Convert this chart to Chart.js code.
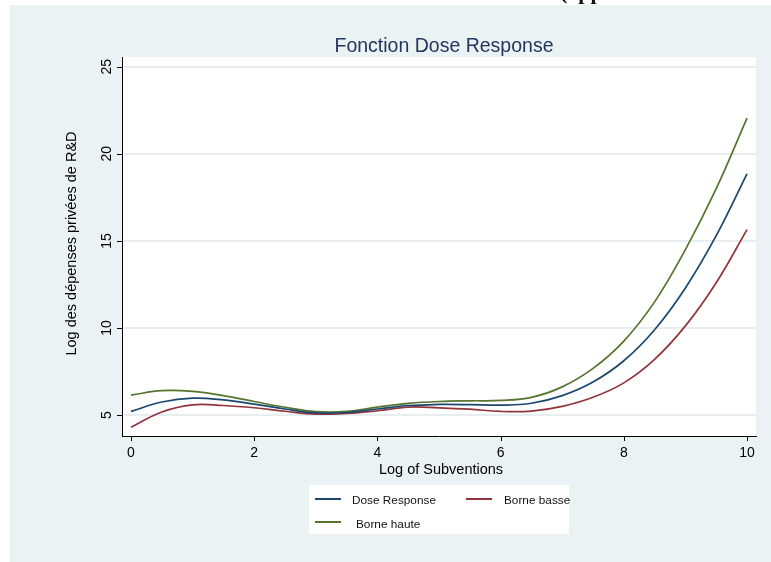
<!DOCTYPE html>
<html><head><meta charset="utf-8">
<script src="https://cdn.jsdelivr.net/npm/chart.js@4.4.0/dist/chart.umd.min.js"></script>
<style>html,body{margin:0;padding:0;background:#fff;overflow:hidden;}#wrap{width:771px;height:562px;position:relative;}</style>
</head><body><div id="wrap"><canvas id="c" width="771" height="562" style="width:771px;height:562px"></canvas></div>
<script>
// ---- data ----
const xValues      = [0, 0.5, 1, 1.5, 2, 2.5, 3, 3.5, 4, 4.5, 5, 5.5, 6, 6.5, 7, 7.5, 8, 8.5, 9, 9.5, 10];
const doseResponse = [5.21, 5.75, 5.97, 5.87, 5.63, 5.35, 5.13, 5.15, 5.35, 5.55, 5.61, 5.60, 5.57, 5.68, 6.12, 6.90, 8.12, 9.90, 12.30, 15.30, 18.85];
const borneBasse   = [4.30, 5.18, 5.59, 5.55, 5.42, 5.22, 5.06, 5.10, 5.25, 5.46, 5.42, 5.34, 5.21, 5.23, 5.50, 6.02, 6.85, 8.20, 10.12, 12.60, 15.65];
const borneHaute   = [6.15, 6.40, 6.36, 6.12, 5.78, 5.45, 5.20, 5.21, 5.46, 5.67, 5.78, 5.82, 5.84, 6.02, 6.62, 7.68, 9.25, 11.50, 14.50, 18.00, 22.05];
const xTickValues  = [0, 2, 4, 6, 8, 10];
const yTickValues  = [5, 10, 15, 20, 25];
const seriesNames  = ['Dose Response', 'Borne basse', 'Borne haute'];
const chartTitle   = 'Fonction Dose Response';
const xAxisTitle   = 'Log of Subventions';
const yAxisTitle   = 'Log des dépenses privées de R&D';

const COLORS = { blue: '#1a476f', red: '#90353b', green: '#55752f' };
const FONT = '"Liberation Sans", Arial, Helvetica, sans-serif';

function pts(ys) { return xValues.map((x, i) => ({ x: x, y: ys[i] })); }

const decor = {
  id: 'decor',
  beforeDraw(chart) {
    const ctx = chart.ctx, a = chart.chartArea;
    ctx.save();
    ctx.fillStyle = '#ffffff';
    ctx.fillRect(0, 0, chart.width, chart.height);
    ctx.fillStyle = '#111';
    ctx.font = 'bold 22px "Liberation Serif", serif';
    ctx.textBaseline = 'alphabetic';
    ctx.textAlign = 'left';
    ctx.fillText('(app', 560, -1);
    ctx.fillStyle = '#eaf2f3';
    ctx.fillRect(10, 5, chart.width - 10, chart.height - 5);
    ctx.fillStyle = '#ffffff';
    ctx.fillRect(a.left, a.top, a.right - a.left, a.bottom - a.top);
    ctx.restore();
  },
  afterDraw(chart) {
    const ctx = chart.ctx, a = chart.chartArea;
    const xs = chart.scales.x, ys = chart.scales.y;
    ctx.save();
    ctx.strokeStyle = '#000';
    ctx.lineWidth = 1;
    ctx.beginPath();
    xTickValues.forEach(v => {
      const px = Math.round(xs.getPixelForValue(v)) + 0.5;
      ctx.moveTo(px, a.bottom); ctx.lineTo(px, a.bottom + 5);
    });
    yTickValues.forEach(v => {
      const py = Math.round(ys.getPixelForValue(v)) + 0.5;
      ctx.moveTo(a.left - 5, py); ctx.lineTo(a.left, py);
    });
    ctx.stroke();
    ctx.fillStyle = '#000';
    ctx.font = '14px ' + FONT;
    ctx.textAlign = 'center';
    ctx.textBaseline = 'alphabetic';
    xTickValues.forEach(v => {
      ctx.fillText(String(v), xs.getPixelForValue(v), a.bottom + 21);
    });
    yTickValues.forEach(v => {
      ctx.save();
      ctx.translate(a.left - 11, ys.getPixelForValue(v));
      ctx.rotate(-Math.PI / 2);
      ctx.fillText(String(v), 0, 0);
      ctx.restore();
    });
    ctx.font = '14.5px ' + FONT;
    ctx.fillText(xAxisTitle, (a.left + a.right) / 2 + 2, a.bottom + 38);
    ctx.save();
    ctx.translate(76, (a.top + a.bottom) / 2 - 3);
    ctx.rotate(-Math.PI / 2);
    ctx.fillText(yAxisTitle, 0, 0);
    ctx.restore();
    ctx.fillStyle = '#23365e';
    ctx.font = '19.5px ' + FONT;
    ctx.fillText(chartTitle, (a.left + a.right) / 2 + 5, 52);
    ctx.fillStyle = '#ffffff';
    ctx.fillRect(309, 485, 260, 49);
    const items = [
      { name: seriesNames[0], color: COLORS.blue, x: 315, y: 499, tx: 352 },
      { name: seriesNames[1], color: COLORS.red, x: 466, y: 499, tx: 504 },
      { name: seriesNames[2], color: COLORS.green, x: 315, y: 522, tx: 356 }
    ];
    ctx.font = '11.8px ' + FONT;
    ctx.textAlign = 'left';
    ctx.textBaseline = 'middle';
    items.forEach(it => {
      ctx.strokeStyle = it.color;
      ctx.lineWidth = 2;
      ctx.beginPath();
      ctx.moveTo(it.x, it.y); ctx.lineTo(it.x + 26, it.y);
      ctx.stroke();
      ctx.fillStyle = '#111';
      ctx.fillText(it.name, it.tx, it.y + (it.y > 510 ? 3 : 1.5));
    });
    ctx.restore();
  }
};

new Chart(document.getElementById('c'), {
  type: 'line',
  data: {
    datasets: [
      { label: seriesNames[0], data: pts(doseResponse), borderColor: COLORS.blue, borderWidth: 1.7, pointRadius: 0, tension: 0.4, fill: false },
      { label: seriesNames[1], data: pts(borneBasse), borderColor: COLORS.red, borderWidth: 1.7, pointRadius: 0, tension: 0.4, fill: false },
      { label: seriesNames[2], data: pts(borneHaute), borderColor: COLORS.green, borderWidth: 1.7, pointRadius: 0, tension: 0.4, fill: false }
    ]
  },
  options: {
    responsive: false,
    animation: false,
    events: [],
    layout: { padding: { left: 122, top: 57, right: 15, bottom: 118 } },
    plugins: { legend: { display: false }, title: { display: false }, tooltip: { enabled: false } },
    scales: {
      x: {
        type: 'linear', min: -0.146, max: 10.146,
        afterBuildTicks: s => { s.ticks = xTickValues.map(v => ({ value: v })); },
        ticks: { display: false },
        grid: { display: false },
        border: { display: true, color: '#000', width: 1 }
      },
      y: {
        type: 'linear', min: 3.8, max: 25.555,
        afterBuildTicks: s => { s.ticks = yTickValues.map(v => ({ value: v })); },
        ticks: { display: false },
        grid: { color: '#e6eef0', lineWidth: 2, drawTicks: false },
        border: { display: true, color: '#000', width: 1 }
      }
    }
  },
  plugins: [decor]
});
</script></body></html>
